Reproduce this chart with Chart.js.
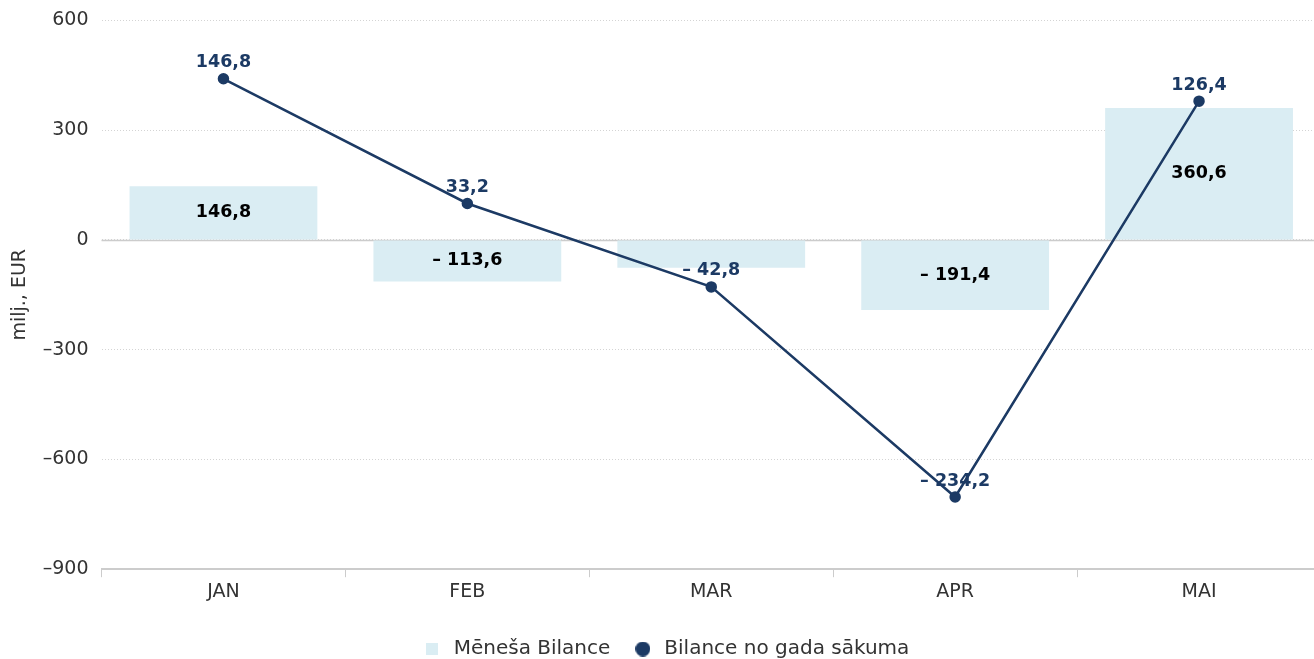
<!DOCTYPE html>
<html>
<head>
<meta charset="utf-8">
<script src="https://cdn.jsdelivr.net/npm/chart.js@4"></script>
<style>
  html, body { margin: 0; padding: 0; background: #fff; overflow: hidden; }
  #wrap { width: 1330px; height: 673px; margin-top: -4px; }
</style>
</head>
<body>
<div id="wrap"><canvas id="chart" width="1330" height="673"></canvas></div>
<script>
  const months = ["JAN", "FEB", "MAR", "APR", "MAI"];
  const monthly = [146.8, -113.6, -76.0, -191.4, 360.6];
  const cumulative = [146.8, 33.2, -42.8, -234.2, 126.4];
  const yTicks = [-900, -600, -300, 0, 300, 600];

  const barColor = "#daedf3";
  const lineColor = "#1c3a64";

  // formāts: komats kā decimāldaļa, mīnuss ar atstarpi
  function fmt(v) {
    const s = Math.abs(v).toFixed(1).replace(".", ",");
    return v < 0 ? "\u2013 " + s : s;
  }

  // leģendas ikonas
  function legendIcon(kind, color) {
    const c = document.createElement("canvas");
    const size = kind === "rect" ? 12 : 15;
    c.width = size;
    c.height = size;
    const g = c.getContext("2d");
    g.fillStyle = color;
    if (kind === "rect") {
      g.fillRect(0, 0, size, size);
    } else {
      g.beginPath();
      g.arc(size / 2, size / 2, size / 2, 0, Math.PI * 2);
      g.fill();
    }
    return c;
  }
  const barIcon = legendIcon("rect", barColor);
  const lineIcon = legendIcon("circle", lineColor);

  Chart.defaults.font.family = "'DejaVu Sans', sans-serif";
  Chart.defaults.color = "#333";

  const zeroLine = {
    id: "zeroLine",
    beforeDatasetsDraw(chart) {
      const { ctx, chartArea, scales } = chart;
      const y = Math.round(scales.y.getPixelForValue(0)) + 0.5;
      ctx.save();
      ctx.strokeStyle = "#cccccc";
      ctx.lineWidth = 1.5;
      ctx.beginPath();
      ctx.moveTo(chartArea.left, y);
      ctx.lineTo(chartArea.right, y);
      ctx.stroke();
      ctx.restore();
    }
  };

  const valueLabels = {
    id: "valueLabels",
    afterDatasetsDraw(chart) {
      const ctx = chart.ctx;
      ctx.save();
      ctx.font = "bold 17.5px 'DejaVu Sans'";
      ctx.textAlign = "center";
      ctx.textBaseline = "middle";
      const taken = [];

      // līnijas etiķetes
      chart.getDatasetMeta(1).data.forEach((pt, i) => {
        const txt = fmt(cumulative[i]);
        const y = pt.y - 16;
        const w = ctx.measureText(txt).width;
        taken.push({ l: pt.x - w / 2 - 3, r: pt.x + w / 2 + 3, t: y - 11, b: y + 11 });
        ctx.fillStyle = lineColor;
        ctx.fillText(txt, pt.x, y);
      });

      // stabiņu etiķetes, ja nepārklājas
      chart.getDatasetMeta(0).data.forEach((bar, i) => {
        const txt = fmt(monthly[i]);
        const y = (bar.y + bar.base) / 2;
        const w = ctx.measureText(txt).width;
        const box = { l: bar.x - w / 2, r: bar.x + w / 2, t: y - 10, b: y + 10 };
        const hit = taken.some(o => box.l < o.r && box.r > o.l && box.t < o.b && box.b > o.t);
        if (hit) return;
        ctx.fillStyle = "#000";
        ctx.fillText(txt, bar.x, y);
      });
      ctx.restore();
    }
  };

  new Chart(document.getElementById("chart"), {
    data: {
      labels: months,
      datasets: [
        {
          type: "bar",
          label: "Mēneša Bilance",
          data: monthly,
          backgroundColor: barColor,
          barPercentage: 0.77,
          categoryPercentage: 1,
          yAxisID: "y",
          order: 2
        },
        {
          type: "line",
          label: "Bilance no gada sākuma",
          data: cumulative,
          borderColor: lineColor,
          backgroundColor: lineColor,
          borderWidth: 2.5,
          pointRadius: 4.5,
          pointHoverRadius: 4.5,
          pointStyle: "circle",
          tension: 0,
          yAxisID: "y1",
          order: 1
        }
      ]
    },
    options: {
      responsive: false,
      animation: false,
      layout: { padding: { top: 1, right: 9, left: 9, bottom: 0 } },
      plugins: {
        tooltip: { enabled: false },
        legend: {
          position: "bottom",
          labels: {
            usePointStyle: true,
            pointStyleWidth: 23,
            boxHeight: 15,
            padding: 21,
            color: "#333",
            font: { size: 20 },
            sort: (a, b) => a.datasetIndex - b.datasetIndex,
            generateLabels(chart) {
              const items = Chart.defaults.plugins.legend.labels.generateLabels(chart);
              items.forEach(it => {
                it.pointStyle = it.datasetIndex === 0 ? barIcon : lineIcon;
              });
              return items;
            }
          }
        }
      },
      scales: {
        x: {
          offset: true,
          grid: {
            drawOnChartArea: false,
            drawTicks: true,
            tickLength: 8,
            tickColor: "#cccccc",
            offset: true
          },
          border: { color: "#cccccc", width: 2 },
          ticks: { color: "#333", font: { size: 19 }, padding: 3 },
          afterFit(scale) { scale.height += 12; }
        },
        y: {
          min: -900,
          max: 600,
          afterBuildTicks(scale) {
            scale.ticks = yTicks.map(v => ({ value: v }));
          },
          afterFit(scale) { scale.width = 92.5; },
          grid: { color: "#d4d4d4", lineWidth: 1, drawTicks: false },
          border: { display: false, dash: [1, 2] },
          ticks: {
            color: "#333",
            font: { size: 19 },
            padding: 13,
            callback: v => (v < 0 ? "\u2013" + Math.abs(v) : String(v))
          },
          title: {
            display: true,
            text: "milj., EUR",
            color: "#333",
            font: { size: 19 },
            padding: { top: 0, bottom: 0 }
          }
        },
        y1: {
          display: false,
          min: -300,
          max: 200
        }
      }
    },
    plugins: [zeroLine, valueLabels]
  });
</script>
</body>
</html>
